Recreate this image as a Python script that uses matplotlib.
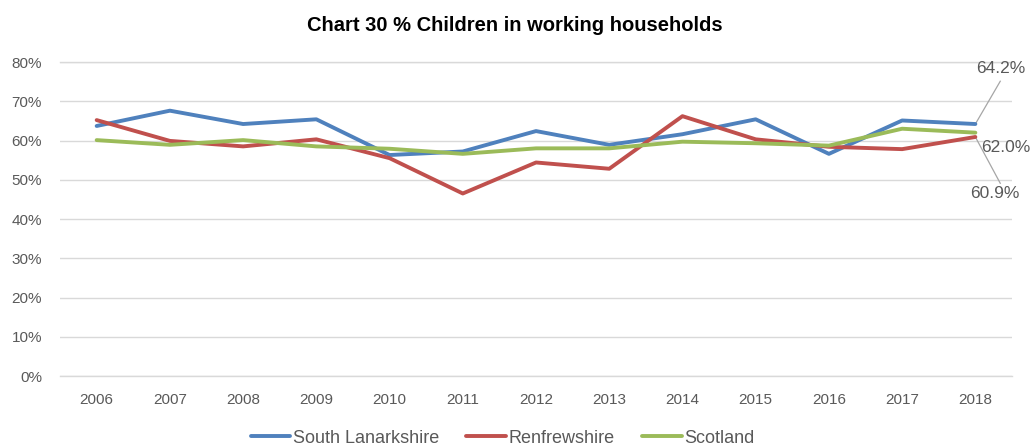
import numpy as np
import matplotlib
matplotlib.use("Agg")
import matplotlib.pyplot as plt
from matplotlib.ticker import PercentFormatter

plt.rcParams['font.family'] = ['Liberation Sans', 'DejaVu Sans']

years = ['2006', '2007', '2008', '2009', '2010', '2011', '2012',
         '2013', '2014', '2015', '2016', '2017', '2018']
south_lanarkshire = [63.7, 67.6, 64.2, 65.4, 56.3, 57.2, 62.4, 58.9, 61.6, 65.4, 56.6, 65.1, 64.2]
renfrewshire = [65.2, 59.9, 58.5, 60.3, 55.5, 46.5, 54.4, 52.8, 66.2, 60.3, 58.4, 57.8, 60.9]
scotland = [60.1, 58.9, 60.1, 58.5, 57.9, 56.6, 58.0, 58.0, 59.7, 59.3, 58.7, 63.0, 62.0]

series = [('South Lanarkshire', south_lanarkshire, '#4F81BD'),
          ('Renfrewshire', renfrewshire, '#C0504D'),
          ('Scotland', scotland, '#9BBB59')]

fig = plt.figure(figsize=(10.30, 4.48), dpi=100)
ax = fig.add_axes([0.0583, 0.1607, 0.9242, 0.7009])

x = np.arange(len(years))
for name, vals, col in series:
    ax.plot(x, vals, color=col, lw=2.8, label=name, solid_capstyle='round', zorder=3)

ax.set_xlim(-0.5, len(years) - 0.5)
ax.set_ylim(0, 80)
ax.set_yticks(np.arange(0, 81, 10))
ax.yaxis.set_major_formatter(PercentFormatter(decimals=0))
ax.set_xticks(x)
ax.set_xticklabels(years)
ax.grid(axis='y', color='#D9D9D9', lw=1)
ax.axhline(0, color='#D9D9D9', lw=1, clip_on=False)
ax.axhline(80, color='#D9D9D9', lw=1, clip_on=False)
ax.set_axisbelow(True)
for s in ax.spines.values():
    s.set_visible(False)
ax.tick_params(axis='both', length=0, labelsize=11, colors='#595959')
ax.tick_params(axis='y', pad=13)
ax.tick_params(axis='x', pad=12)

# value labels at the end of each line, two with grey leader lines
last = len(years) - 1
lbl = dict(fontsize=12.5, color='#595959', ha='center', va='center', clip_on=False)
lead = dict(color='#A6A6A6', lw=0.9, clip_on=False, zorder=2)

ax.plot([last, last + 0.34], [south_lanarkshire[-1], 75.1], **lead)
ax.text(last + 0.34, 78.4, f'{south_lanarkshire[-1]:.1f}%', **lbl)

ax.text(last + 0.42, 58.3, f'{scotland[-1]:.1f}%', **lbl)

ax.plot([last, last + 0.34], [renfrewshire[-1], 49.1], **lead)
ax.text(last + 0.26, 46.6, f'{renfrewshire[-1]:.1f}%', **lbl)

fig.suptitle('Chart 30 % Children in working households', fontsize=14.5,
             fontweight='bold', y=0.965, x=0.5)

leg = fig.legend(loc='center', bbox_to_anchor=(0.488, 0.022), ncol=3, frameon=False,
                 fontsize=13, handlelength=2.2, handletextpad=0.15, columnspacing=1.5)
for t in leg.get_texts():
    t.set_color('#595959')

fig.savefig('out.png', dpi=100)
